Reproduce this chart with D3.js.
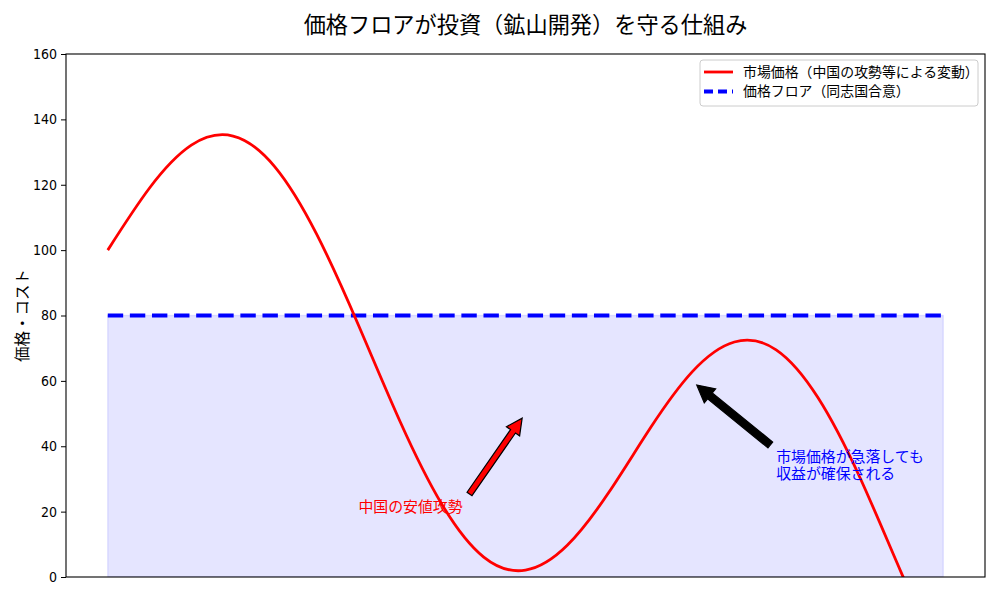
<!DOCTYPE html>
<html>
<head>
<meta charset="utf-8">
<script src="https://cdn.jsdelivr.net/npm/d3@7"></script>
<style>
  body { margin: 0; background: #fff; }
  text { font-family: "Noto Sans CJK JP", sans-serif; }
  .tick text { font-family: "DejaVu Sans Condensed", "DejaVu Sans", sans-serif; }
</style>
</head>
<body>
<svg id="chart" width="1000" height="600"></svg>
<script>
// --- data ---
const timeSteps = [0, 0.5, 1, 1.5, 2, 2.5, 3, 3.5, 4, 4.5, 5, 5.5, 6, 6.5, 7, 7.5, 8, 8.5, 9, 9.5, 10];
const marketPrice = [100, 119.0, 132.1, 134.9, 125.5, 104.9, 77.1, 47.5, 22.2, 6.1, 2.1, 9.7, 26.0, 45.8, 62.9, 71.9, 69.5, 54.9, 30.6, 1.2, -27.2];
const floorPrice = 80;
const yTicks = [0, 20, 40, 60, 80, 100, 120, 140, 160];
const seriesNames = ["市場価格（中国の攻勢等による変動）", "価格フロア（同志国合意）"];
// annotations: [tailX, tailY] -> [tipX, tipY], text anchor
const attackArrow = { from: [4.33, 25.4], to: [4.96, 48.6], text: ["中国の安値攻勢"], at: [3.0, 20] };
const floorArrow = { from: [7.93, 40.4], to: [7.05, 58.7], text: ["市場価格が急落しても", "収益が確保される"], at: [8.0, 30] };

const svg = d3.select("#chart");
const margin = { top: 54, right: 15, bottom: 23, left: 66 };
const W = 1000, H = 600;

const x = d3.scaleLinear().domain([-0.5, 10.5]).range([margin.left, W - margin.right]);
const y = d3.scaleLinear().domain([0, 160]).range([H - margin.bottom, margin.top]);

svg.append("defs").append("clipPath").attr("id", "plot")
  .append("rect")
  .attr("x", margin.left).attr("y", margin.top)
  .attr("width", W - margin.left - margin.right)
  .attr("height", H - margin.top - margin.bottom);

const plot = svg.append("g").attr("clip-path", "url(#plot)");

// protected zone under the floor
const x0 = d3.min(timeSteps), x1 = d3.max(timeSteps);
plot.append("rect")
  .attr("x", x(x0)).attr("y", y(floorPrice))
  .attr("width", x(x1) - x(x0)).attr("height", y(0) - y(floorPrice))
  .attr("fill", "rgba(0,0,255,0.1)")
  .attr("stroke", "rgba(0,0,255,0.1)").attr("stroke-width", 1.4);

// floor line
plot.append("line")
  .attr("x1", x(x0)).attr("x2", x(x1))
  .attr("y1", y(floorPrice)).attr("y2", y(floorPrice))
  .attr("stroke", "#0000ff").attr("stroke-width", 4.2)
  .attr("stroke-dasharray", "15.4 6.7");

// market price curve
const line = d3.line()
  .x((d, i) => x(timeSteps[i]))
  .y(d => y(d))
  .curve(d3.curveNatural);

plot.append("path")
  .datum(marketPrice)
  .attr("d", line)
  .attr("fill", "none")
  .attr("stroke", "#ff0000")
  .attr("stroke-width", 2.8);

// arrows
function arrow(a, fill, stroke, shaft, head, headLen) {
  const tx = x(a.from[0]), ty = y(a.from[1]);
  const hx = x(a.to[0]), hy = y(a.to[1]);
  const ang = Math.atan2(hy - ty, hx - tx);
  const len = Math.hypot(hx - tx, hy - ty);
  const pts = [
    [0, -shaft / 2], [len - headLen, -shaft / 2], [len - headLen, -head / 2],
    [len, 0], [len - headLen, head / 2], [len - headLen, shaft / 2], [0, shaft / 2]
  ].map(([u, v]) => [tx + u * Math.cos(ang) - v * Math.sin(ang), ty + u * Math.sin(ang) + v * Math.cos(ang)]);
  svg.append("polygon")
    .attr("points", pts.map(p => p.join(",")).join(" "))
    .attr("fill", fill).attr("stroke", stroke).attr("stroke-width", 1.2)
    .attr("stroke-linejoin", "miter");
}
arrow(attackArrow, "#ff0000", "#000", 6, 16, 16);
arrow(floorArrow, "#000", "#000", 7.5, 18, 17);

// one text per line, bottom line sits on the anchor
function note(a, color) {
  const n = a.text.length;
  a.text.forEach((s, i) => {
    svg.append("text")
      .attr("x", x(a.at[0])).attr("y", y(a.at[1]) - (n - 1 - i) * 16.5)
      .attr("fill", color).attr("font-size", 14.9)
      .text(s);
  });
}
note(attackArrow, "#ff0000");
note(floorArrow, "#0000ff");

// axes
const yAxis = svg.append("g")
  .attr("transform", `translate(${margin.left},0)`)
  .call(d3.axisLeft(y).tickValues(yTicks).tickSize(5).tickPadding(4));
yAxis.selectAll("text").attr("font-size", 14).attr("fill", "#000");
yAxis.select(".domain").remove();

svg.append("rect")
  .attr("x", margin.left).attr("y", margin.top)
  .attr("width", W - margin.left - margin.right)
  .attr("height", H - margin.top - margin.bottom)
  .attr("fill", "none").attr("stroke", "#000").attr("stroke-width", 1.1);

svg.append("text")
  .attr("x", 28).attr("y", (margin.top + H - margin.bottom) / 2)
  .attr("transform", `rotate(-90, 28, ${(margin.top + H - margin.bottom) / 2})`)
  .attr("text-anchor", "middle")
  .attr("font-size", 15.5)
  .text("価格・コスト");

// title
svg.append("text")
  .attr("x", (margin.left + W - margin.right) / 2).attr("y", 33)
  .attr("text-anchor", "middle")
  .attr("font-size", 22.2)
  .text("価格フロアが投資（鉱山開発）を守る仕組み");

// legend
const lg = svg.append("g").attr("transform", "translate(700,60)");
lg.append("rect").attr("width", 278).attr("height", 46).attr("rx", 3)
  .attr("fill", "rgba(255,255,255,0.8)").attr("stroke", "#ccc");
const legendStyles = [
  { color: "#ff0000", width: 2.8, dash: null },
  { color: "#0000ff", width: 4.2, dash: "9 5" }
];
seriesNames.forEach((name, i) => {
  const yy = 12 + i * 19.5;
  lg.append("line").attr("x1", 4).attr("x2", 33).attr("y1", yy).attr("y2", yy)
    .attr("stroke", legendStyles[i].color).attr("stroke-width", legendStyles[i].width)
    .attr("stroke-dasharray", legendStyles[i].dash);
  lg.append("text").attr("x", 43).attr("y", yy + 4.8).attr("font-size", 13.9).text(name);
});
</script>
</body>
</html>
